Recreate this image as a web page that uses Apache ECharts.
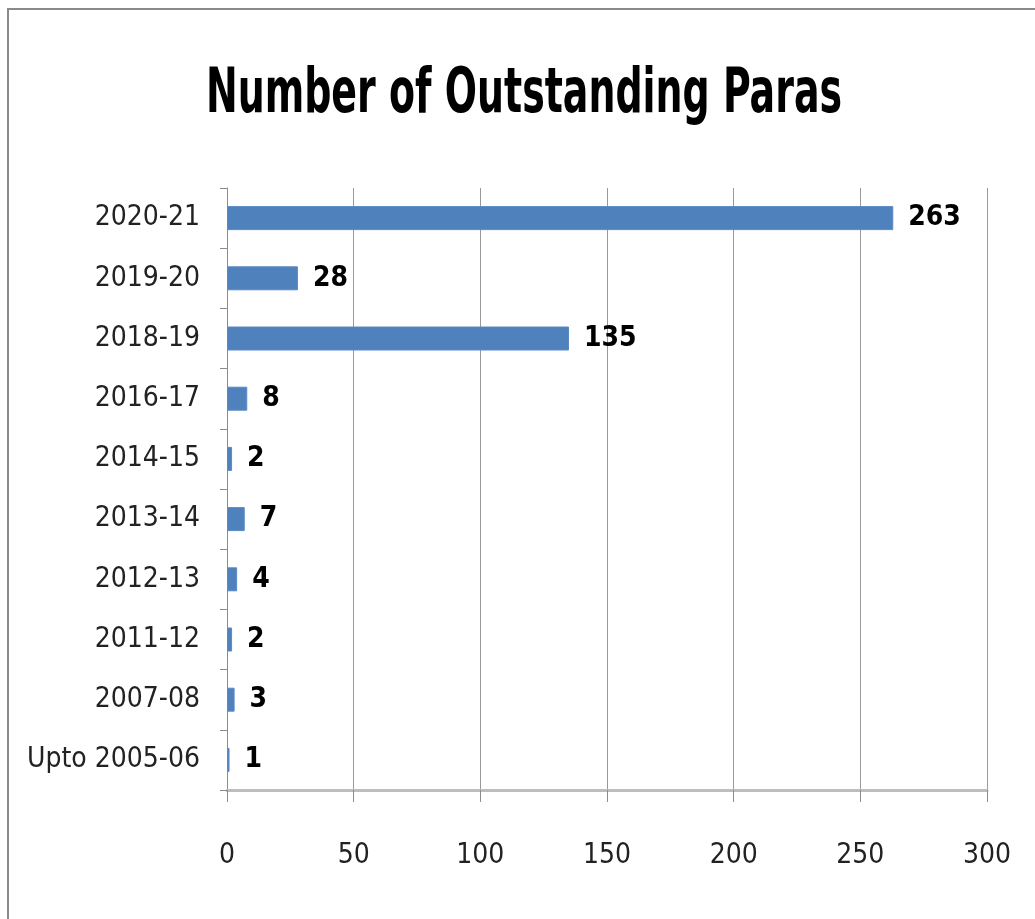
<!DOCTYPE html>
<html>
<head>
<meta charset="utf-8">
<script src="https://cdn.jsdelivr.net/npm/echarts@6/dist/echarts.min.js"></script>
<style>
html,body{margin:0;padding:0;background:#fff;}
#c{width:1035px;height:919px;}
</style>
</head>
<body>
<div id="c"></div>
<script>
const categories = ["2020-21","2019-20","2018-19","2016-17","2014-15","2013-14","2012-13","2011-12","2007-08","Upto 2005-06"];
const values = [263, 28, 135, 8, 2, 7, 4, 2, 3, 1];
const xTicks = [0, 50, 100, 150, 200, 250, 300];
const titleText = "Number of Outstanding Paras";

const FONT = '"DejaVu Sans Condensed","Liberation Sans Narrow",sans-serif';
const chart = echarts.init(document.getElementById('c'), null, {renderer:'canvas'});
chart.setOption({
  backgroundColor:'#fff',
  animation:false,
  graphic:[{
    type:'rect', silent:true,
    shape:{x:8, y:9, width:1040, height:930},
    style:{fill:'none', stroke:'#8a8a8a', lineWidth:2}
  },{
    type:'text', silent:true,
    x:524, y:96, scaleX:0.68,
    style:{text:titleText, x:0, y:0, align:'center', verticalAlign:'middle',
      font:'bold 62px "DejaVu Sans Condensed", sans-serif', fill:'#000'}
  }],
  grid:{left:227, right:48, top:188, bottom:129, containLabel:false},
  xAxis:{
    type:'value', min:xTicks[0], max:xTicks[xTicks.length-1], interval:xTicks[1]-xTicks[0],
    axisLine:{show:true, lineStyle:{color:'#bdbdbd', width:3}},
    axisTick:{show:true, length:12, lineStyle:{color:'#8c8c8c', width:1}},
    splitLine:{show:true, lineStyle:{color:'#999', width:1}},
    axisLabel:{margin:52, fontFamily:FONT, fontSize:28, color:'#222'}
  },
  yAxis:{
    type:'category', data:categories, inverse:true,
    axisLine:{show:true, lineStyle:{color:'#8c8c8c', width:1}},
    axisTick:{show:true, length:7, lineStyle:{color:'#8c8c8c'}},
    axisLabel:{margin:27, fontFamily:FONT, fontSize:28, color:'#222'}
  },
  series:[{
    type:'bar', data:values, barWidth:24,
    itemStyle:{color:'#4F81BD', borderColor:'#5a8ac4', borderWidth:1},
    label:{show:true, position:'right', distance:15, fontFamily:FONT, fontSize:28, fontWeight:'bold', color:'#000'}
  }]
});
</script>
</body>
</html>
